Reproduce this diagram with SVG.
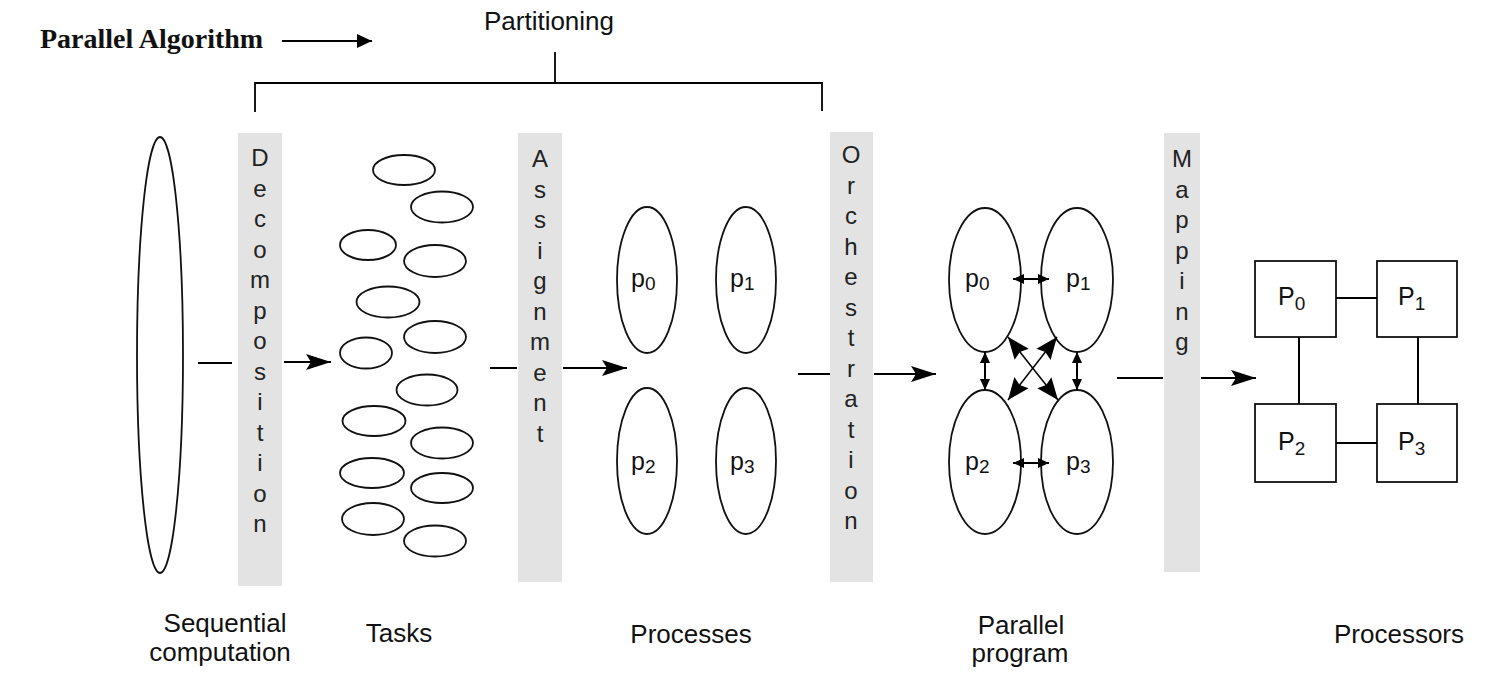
<svg xmlns="http://www.w3.org/2000/svg" width="1510" height="682" viewBox="0 0 1510 682">
<style>
.ln{stroke:#000;stroke-width:2;fill:none}
.sh{stroke:#111;stroke-width:1.8;fill:#fff}
.bar{fill:#e3e3e3}
.lt{font-family:"Liberation Sans",Arial,sans-serif;font-size:24px;fill:#222;text-anchor:middle}
.lb{font-family:"Liberation Sans",Arial,sans-serif;font-size:26px;fill:#111;text-anchor:middle}
.pl{font-family:"Liberation Sans",Arial,sans-serif;font-size:25px;fill:#111}
.sub{font-size:19px}
</style>
<defs>
<marker id="ah" markerUnits="userSpaceOnUse" markerWidth="28" markerHeight="20" refX="25" refY="10" orient="auto" overflow="visible">
<path d="M0,2 L25,10 L0,18 L5,10 z" fill="#000"/>
</marker>
<marker id="ahs" markerUnits="userSpaceOnUse" markerWidth="12" markerHeight="12" refX="11" refY="6" orient="auto-start-reverse" overflow="visible">
<path d="M0,1 L11,6 L0,11 z" fill="#000"/>
</marker>
<marker id="ahd" markerUnits="userSpaceOnUse" markerWidth="24" markerHeight="22" refX="22" refY="11" orient="auto-start-reverse" overflow="visible">
<path d="M0,2 L22,11 L0,20 L3,11 z" fill="#000"/>
</marker>
<marker id="ah0" markerUnits="userSpaceOnUse" markerWidth="16" markerHeight="16" refX="15" refY="8" orient="auto" overflow="visible">
<path d="M0,1 L15,8 L0,15 z" fill="#000"/>
</marker>
</defs>

<g id="title">
<text x="40" y="48" font-family="'Liberation Serif','Times New Roman',serif" font-size="28" font-weight="bold" fill="#111">Parallel Algorithm</text>
<line x1="282" y1="41" x2="372" y2="41" class="ln" style="stroke-width:1.8" marker-end="url(#ah0)"/>
</g>

<g id="partitioning">
<text x="549" y="30" class="lb">Partitioning</text>
<path d="M555,52 V83 M255,112 V83 H822 V111" class="ln" style="stroke-width:1.8"/>
</g>

<g id="bar-decomposition">
<rect x="238" y="133" width="44" height="453" class="bar"/>
<text class="lt" x="260" y="166"><tspan x="260">D</tspan><tspan x="260" dy="30.5">e</tspan><tspan x="260" dy="30.5">c</tspan><tspan x="260" dy="30.5">o</tspan><tspan x="260" dy="30.5">m</tspan><tspan x="260" dy="30.5">p</tspan><tspan x="260" dy="30.5">o</tspan><tspan x="260" dy="30.5">s</tspan><tspan x="260" dy="30.5">i</tspan><tspan x="260" dy="30.5">t</tspan><tspan x="260" dy="30.5">i</tspan><tspan x="260" dy="30.5">o</tspan><tspan x="260" dy="30.5">n</tspan></text>
</g>

<g id="bar-assignment">
<rect x="518" y="133" width="44" height="449" class="bar"/>
<text class="lt" x="540" y="167"><tspan x="540">A</tspan><tspan x="540" dy="30.5">s</tspan><tspan x="540" dy="30.5">s</tspan><tspan x="540" dy="30.5">i</tspan><tspan x="540" dy="30.5">g</tspan><tspan x="540" dy="30.5">n</tspan><tspan x="540" dy="30.5">m</tspan><tspan x="540" dy="30.5">e</tspan><tspan x="540" dy="30.5">n</tspan><tspan x="540" dy="30.5">t</tspan></text>
</g>

<g id="bar-orchestration">
<rect x="830" y="132" width="43" height="450" class="bar"/>
<text class="lt" x="851" y="163"><tspan x="851">O</tspan><tspan x="851" dy="30.5">r</tspan><tspan x="851" dy="30.5">c</tspan><tspan x="851" dy="30.5">h</tspan><tspan x="851" dy="30.5">e</tspan><tspan x="851" dy="30.5">s</tspan><tspan x="851" dy="30.5">t</tspan><tspan x="851" dy="30.5">r</tspan><tspan x="851" dy="30.5">a</tspan><tspan x="851" dy="30.5">t</tspan><tspan x="851" dy="30.5">i</tspan><tspan x="851" dy="30.5">o</tspan><tspan x="851" dy="30.5">n</tspan></text>
</g>

<g id="bar-mapping">
<rect x="1164" y="133" width="36" height="439" class="bar"/>
<text class="lt" x="1182" y="167"><tspan x="1182">M</tspan><tspan x="1182" dy="30.5">a</tspan><tspan x="1182" dy="30.5">p</tspan><tspan x="1182" dy="30.5">p</tspan><tspan x="1182" dy="30.5">i</tspan><tspan x="1182" dy="30.5">n</tspan><tspan x="1182" dy="30.5">g</tspan></text>
</g>

<g id="sequential">
<ellipse cx="160" cy="355" rx="23" ry="218" class="sh"/>
<text class="lb" x="225" y="632">Sequential</text>
<text class="lb" x="220" y="661">computation</text>
</g>

<g id="tasks">
<ellipse cx="404" cy="170" rx="31" ry="15" class="sh"/>
<ellipse cx="442" cy="207" rx="31" ry="15.5" class="sh"/>
<ellipse cx="368" cy="245" rx="28" ry="15" class="sh"/>
<ellipse cx="435" cy="261" rx="31" ry="16" class="sh"/>
<ellipse cx="388" cy="302" rx="31.5" ry="15.5" class="sh"/>
<ellipse cx="435" cy="337" rx="31" ry="16" class="sh"/>
<ellipse cx="366" cy="353" rx="26" ry="15.5" class="sh"/>
<ellipse cx="427" cy="390" rx="30.5" ry="15.5" class="sh"/>
<ellipse cx="374" cy="421" rx="31.5" ry="15" class="sh"/>
<ellipse cx="442" cy="443" rx="31" ry="15.5" class="sh"/>
<ellipse cx="372" cy="473" rx="32" ry="15" class="sh"/>
<ellipse cx="442" cy="488" rx="31" ry="15" class="sh"/>
<ellipse cx="373" cy="519" rx="31" ry="16" class="sh"/>
<ellipse cx="435" cy="541" rx="31" ry="15.5" class="sh"/>
<text class="lb" x="399" y="642">Tasks</text>
</g>

<g id="processes">
<ellipse cx="647" cy="280" rx="30" ry="73" class="sh"/>
<ellipse cx="746" cy="280" rx="30" ry="73" class="sh"/>
<ellipse cx="647" cy="461" rx="30" ry="73" class="sh"/>
<ellipse cx="746" cy="461" rx="30" ry="73" class="sh"/>
<text class="pl" x="631" y="287">p<tspan class="sub" dy="3">0</tspan></text>
<text class="pl" x="730" y="287">p<tspan class="sub" dy="3">1</tspan></text>
<text class="pl" x="631" y="470">p<tspan class="sub" dy="3">2</tspan></text>
<text class="pl" x="730" y="470">p<tspan class="sub" dy="3">3</tspan></text>
<text class="lb" x="691" y="643">Processes</text>
</g>

<g id="parallel-program">
<ellipse cx="985" cy="280" rx="36" ry="72" class="sh"/>
<ellipse cx="1077" cy="280" rx="36" ry="72" class="sh"/>
<ellipse cx="985" cy="462" rx="36" ry="72" class="sh"/>
<ellipse cx="1077" cy="462" rx="36" ry="72" class="sh"/>
<text class="pl" x="965" y="287">p<tspan class="sub" dy="3">0</tspan></text>
<text class="pl" x="1066" y="287">p<tspan class="sub" dy="3">1</tspan></text>
<text class="pl" x="965" y="470">p<tspan class="sub" dy="3">2</tspan></text>
<text class="pl" x="1066" y="470">p<tspan class="sub" dy="3">3</tspan></text>
<text class="lb" x="1021" y="634">Parallel</text>
<text class="lb" x="1020" y="662">program</text>
</g>

<g id="processors">
<rect x="1255" y="261" width="81" height="76" class="sh"/>
<rect x="1377" y="261" width="80" height="76" class="sh"/>
<rect x="1255" y="404" width="81" height="78" class="sh"/>
<rect x="1377" y="404" width="80" height="78" class="sh"/>
<text class="pl" x="1278" y="305">P<tspan class="sub" dy="5">0</tspan></text>
<text class="pl" x="1398" y="305">P<tspan class="sub" dy="5">1</tspan></text>
<text class="pl" x="1278" y="450">P<tspan class="sub" dy="5">2</tspan></text>
<text class="pl" x="1398" y="450">P<tspan class="sub" dy="5">3</tspan></text>
<text class="lb" x="1399" y="643">Processors</text>
</g>

<g id="connectors">
<line x1="198" y1="363" x2="232" y2="363" class="ln"/>
<line x1="284" y1="362" x2="331" y2="362" class="ln" marker-end="url(#ah)"/>
<line x1="490" y1="368" x2="517" y2="368" class="ln"/>
<line x1="563" y1="368" x2="627" y2="368" class="ln" marker-end="url(#ah)"/>
<line x1="798" y1="374" x2="830" y2="374" class="ln"/>
<line x1="874" y1="374" x2="936" y2="374" class="ln" marker-end="url(#ah)"/>
<line x1="1117" y1="378" x2="1163" y2="378" class="ln"/>
<line x1="1201" y1="378" x2="1256" y2="378" class="ln" marker-end="url(#ah)"/>

<line x1="1013" y1="279" x2="1049" y2="279" class="ln" marker-start="url(#ahs)" marker-end="url(#ahs)"/>
<line x1="1013" y1="463" x2="1049" y2="463" class="ln" marker-start="url(#ahs)" marker-end="url(#ahs)"/>
<line x1="985" y1="352" x2="985" y2="390" class="ln" marker-start="url(#ahs)" marker-end="url(#ahs)"/>
<line x1="1077" y1="352" x2="1077" y2="390" class="ln" marker-start="url(#ahs)" marker-end="url(#ahs)"/>
<line x1="1008" y1="337" x2="1058" y2="400" class="ln" style="stroke-width:1.5" marker-start="url(#ahd)" marker-end="url(#ahd)"/>
<line x1="1057" y1="337" x2="1008" y2="400" class="ln" style="stroke-width:1.5" marker-start="url(#ahd)" marker-end="url(#ahd)"/>

<line x1="1336" y1="298" x2="1377" y2="298" class="ln"/>
<line x1="1336" y1="443" x2="1377" y2="443" class="ln"/>
<line x1="1299" y1="337" x2="1299" y2="404" class="ln"/>
<line x1="1418" y1="337" x2="1418" y2="404" class="ln"/>
</g>
</svg>
